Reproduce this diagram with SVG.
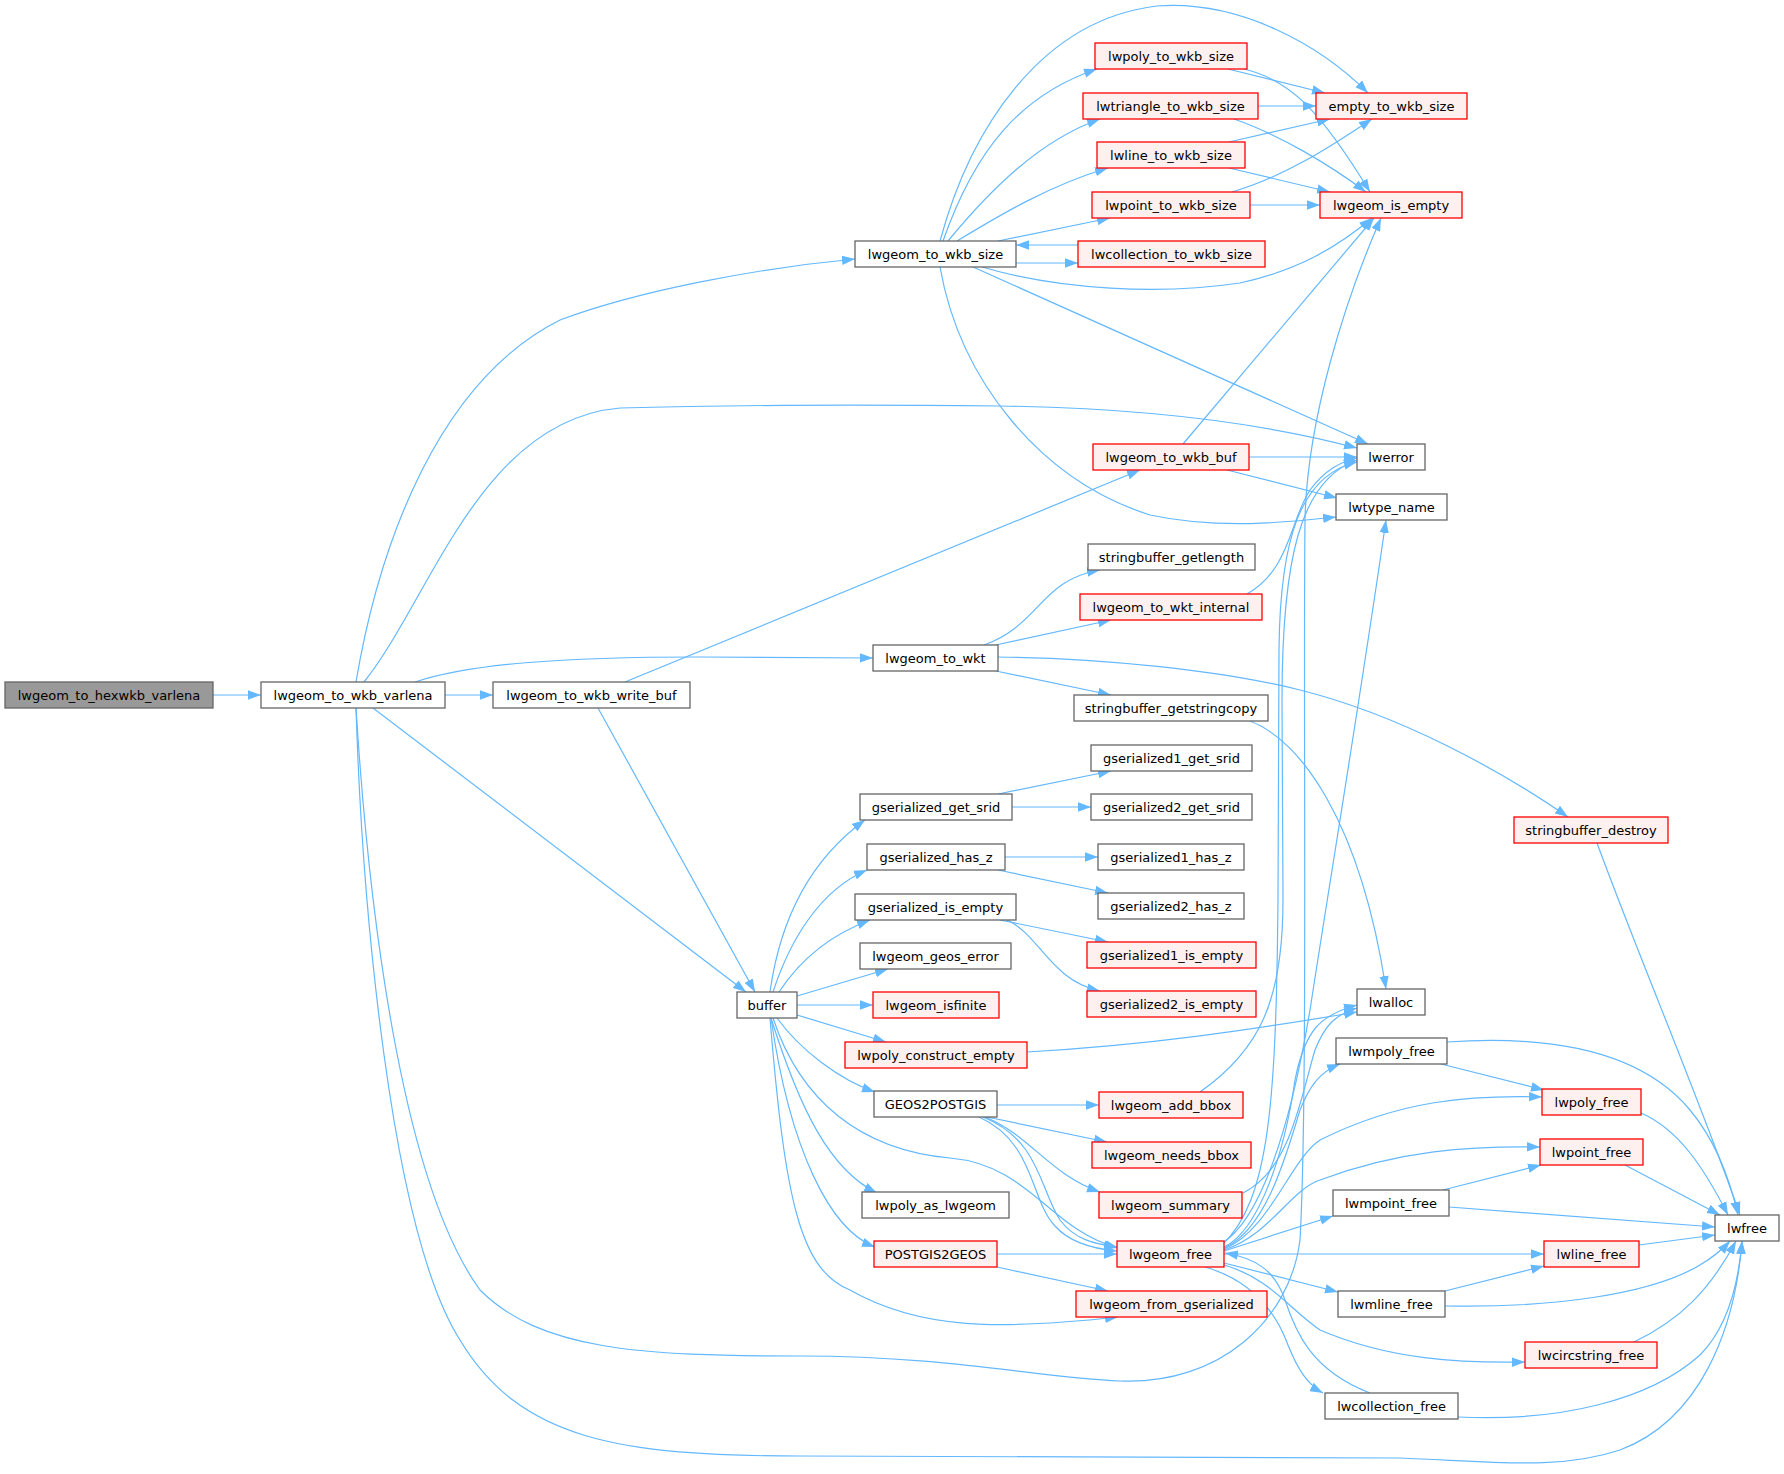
<svg xmlns="http://www.w3.org/2000/svg" width="1784" height="1474" viewBox="0 0 1784 1474">
<style>
.g rect{fill:#ffffff;stroke:#666666;stroke-width:1.3}
.r rect{fill:#fff0f0;stroke:#ff0000;stroke-width:1.3}
.root rect{fill:#999999;stroke:#666666;stroke-width:1.3}
text{font-family:"DejaVu Sans","Liberation Sans",sans-serif;font-size:13px;fill:#000000;text-anchor:middle}
#edges path{fill:none;stroke:#63b8ff;stroke-width:1.2;marker-end:url(#a)}
</style>
<defs>
<marker id="a" markerUnits="userSpaceOnUse" markerWidth="13" markerHeight="10" viewBox="0 0 13 10" refX="13" refY="5" orient="auto"><path d="M0,0.3 L13,5 L0,9.7 z" fill="#63b8ff"/></marker>
</defs>
<rect width="1784" height="1474" fill="#ffffff"/>
<g id="edges">
<path d="M213,695 L261,695"/>
<path d="M356,682 C380,540 440,380 560,320 C640,290 760,268 855,259"/>
<path d="M364,682 C430,600 480,420 620,408 C760,404 900,405 1000,406 C1150,408 1270,425 1357,448"/>
<path d="M445,695 L493,695"/>
<path d="M415,682 C470,664 560,657 700,657 L873,658"/>
<path d="M373,708 L746,992"/>
<path d="M356,708 C368,900 400,1180 480,1290 C540,1350 640,1356 800,1356 C950,1356 1040,1378 1120,1381 C1220,1385 1290,1320 1300,1240 C1308,1100 1303,700 1305,520 C1307,420 1345,300 1381,218"/>
<path d="M356,708 C362,900 390,1230 460,1340 C520,1440 620,1456 800,1456 L1400,1458 C1500,1462 1560,1470 1620,1450 C1700,1420 1735,1330 1742,1241"/>
<path d="M625,682 L1140,470"/>
<path d="M598,708 L755,992"/>
<path d="M940,241 C970,130 1040,20 1157,6 C1240,0 1320,45 1368,93"/>
<path d="M943,241 C975,150 1020,95 1097,69"/>
<path d="M948,241 C990,190 1040,140 1100,119"/>
<path d="M957,241 C1000,215 1050,185 1108,168"/>
<path d="M998,241 L1110,218"/>
<path d="M1016,263 L1078,263"/>
<path d="M1078,245 L1016,245"/>
<path d="M982,267 C1060,290 1160,295 1240,283 C1300,270 1340,245 1372,218"/>
<path d="M973,267 L1368,444"/>
<path d="M940,267 C960,380 1040,480 1150,515 C1220,530 1290,522 1336,517"/>
<path d="M1228,69 L1325,93"/>
<path d="M1244,69 C1290,80 1320,110 1370,192"/>
<path d="M1258,106 L1316,106"/>
<path d="M1234,119 C1280,135 1330,165 1366,192"/>
<path d="M1229,142 L1330,119"/>
<path d="M1229,168 L1330,192"/>
<path d="M1232,192 C1290,175 1340,140 1372,119"/>
<path d="M1250,205 L1320,205"/>
<path d="M1183,444 L1374,218"/>
<path d="M1249,457 L1357,457"/>
<path d="M1227,470 L1337,498"/>
<path d="M984,645 C1040,625 1040,580 1100,570"/>
<path d="M996,645 L1111,620"/>
<path d="M996,671 L1111,695"/>
<path d="M998,657 C1100,658 1220,670 1300,690 C1400,715 1500,770 1568,817"/>
<path d="M1247,594 C1290,570 1290,520 1310,490 C1325,470 1340,462 1357,458"/>
<path d="M1250,721 C1300,740 1360,820 1386,989"/>
<path d="M1597,843 C1640,960 1700,1100 1740,1215"/>
<path d="M770,992 C780,920 810,860 865,820"/>
<path d="M773,992 C790,940 820,890 867,870"/>
<path d="M779,992 C800,960 830,935 870,920"/>
<path d="M797,996 L888,969"/>
<path d="M797,1005 L873,1005"/>
<path d="M797,1015 L886,1042"/>
<path d="M777,1018 C800,1050 840,1080 875,1092"/>
<path d="M773,1018 C800,1100 860,1150 950,1158 C1030,1165 1050,1230 1118,1248"/>
<path d="M771,1018 C800,1110 830,1170 877,1193"/>
<path d="M771,1018 C790,1150 830,1230 875,1247"/>
<path d="M770,1018 C785,1200 800,1270 850,1290 C920,1330 1000,1330 1118,1317"/>
<path d="M998,794 L1111,771"/>
<path d="M1012,807 L1091,807"/>
<path d="M1005,857 L1098,857"/>
<path d="M998,870 L1108,893"/>
<path d="M1000,920 L1108,942"/>
<path d="M1007,920 C1040,935 1050,980 1100,991"/>
<path d="M1027,1052 C1150,1045 1250,1030 1357,1012"/>
<path d="M997,1105 L1099,1105"/>
<path d="M987,1117 L1107,1142"/>
<path d="M985,1117 C1030,1135 1050,1175 1100,1192"/>
<path d="M983,1117 C1040,1140 1040,1190 1060,1220 C1075,1240 1095,1244 1117,1247"/>
<path d="M979,1117 C1035,1142 1030,1200 1055,1226 C1070,1243 1095,1249 1117,1251"/>
<path d="M997,1254 L1117,1254"/>
<path d="M997,1267 L1108,1291"/>
<path d="M1200,1092 C1260,1050 1283,1000 1283,900 L1282,700 C1282,560 1300,480 1357,460"/>
<path d="M1243,1193 C1290,1170 1300,1100 1315,1050 C1325,1025 1335,1015 1357,1008"/>
<path d="M1224,1247 C1260,1230 1285,1150 1295,1080 C1305,1030 1320,1015 1357,1005"/>
<path d="M1224,1248 C1265,1230 1285,1160 1300,1110 C1310,1085 1320,1072 1340,1064"/>
<path d="M1224,1249 C1270,1230 1290,1160 1320,1140 C1400,1100 1470,1095 1542,1097"/>
<path d="M1224,1250 C1270,1235 1290,1190 1320,1180 C1400,1150 1470,1146 1540,1147"/>
<path d="M1224,1251 L1333,1216"/>
<path d="M1224,1254 L1544,1254"/>
<path d="M1224,1263 L1338,1292"/>
<path d="M1224,1265 C1270,1278 1290,1310 1320,1330 C1390,1360 1460,1363 1525,1362"/>
<path d="M1205,1267 C1250,1280 1275,1310 1288,1345 C1298,1370 1308,1385 1323,1393"/>
<path d="M1370,1393 C1310,1370 1295,1330 1285,1300 C1275,1270 1255,1258 1225,1253"/>
<path d="M1222,1245 C1270,1200 1276,1100 1278,900 L1279,650 C1280,540 1300,475 1357,462"/>
<path d="M1222,1243 C1260,1220 1290,1130 1310,1010 C1330,880 1360,700 1386,520"/>
<path d="M1447,1042 C1550,1035 1640,1050 1690,1110 C1715,1140 1730,1180 1738,1215"/>
<path d="M1441,1064 L1544,1090"/>
<path d="M1641,1113 C1680,1130 1705,1170 1728,1215"/>
<path d="M1625,1165 L1720,1215"/>
<path d="M1449,1207 L1715,1227"/>
<path d="M1443,1190 L1541,1165"/>
<path d="M1639,1245 L1715,1235"/>
<path d="M1445,1291 L1544,1266"/>
<path d="M1445,1306 C1550,1308 1650,1295 1700,1265 C1715,1256 1722,1250 1730,1241"/>
<path d="M1634,1342 C1680,1320 1710,1290 1736,1241"/>
<path d="M1458,1417 C1560,1422 1650,1400 1700,1355 C1725,1330 1738,1290 1742,1241"/>
</g>
<g id="n0" class="root"><rect x="5" y="682" width="208" height="26"/><text x="109" y="699.5">lwgeom_to_hexwkb_varlena</text></g>
<g id="n1" class="g"><rect x="261" y="682" width="184" height="26"/><text x="353" y="699.5">lwgeom_to_wkb_varlena</text></g>
<g id="n2" class="g"><rect x="493" y="682" width="197" height="26"/><text x="591.5" y="699.5">lwgeom_to_wkb_write_buf</text></g>
<g id="n3" class="g"><rect x="855" y="241" width="161" height="26"/><text x="935.5" y="258.5">lwgeom_to_wkb_size</text></g>
<g id="n4" class="r"><rect x="1095" y="43" width="152" height="26"/><text x="1171" y="60.5">lwpoly_to_wkb_size</text></g>
<g id="n5" class="r"><rect x="1083" y="93" width="175" height="26"/><text x="1170.5" y="110.5">lwtriangle_to_wkb_size</text></g>
<g id="n6" class="r"><rect x="1097" y="142" width="148" height="26"/><text x="1171" y="159.5">lwline_to_wkb_size</text></g>
<g id="n7" class="r"><rect x="1092" y="192" width="158" height="26"/><text x="1171" y="209.5">lwpoint_to_wkb_size</text></g>
<g id="n8" class="r"><rect x="1078" y="241" width="187" height="26"/><text x="1171.5" y="258.5">lwcollection_to_wkb_size</text></g>
<g id="n9" class="r"><rect x="1316" y="93" width="151" height="26"/><text x="1391.5" y="110.5">empty_to_wkb_size</text></g>
<g id="n10" class="r"><rect x="1320" y="192" width="142" height="26"/><text x="1391" y="209.5">lwgeom_is_empty</text></g>
<g id="n11" class="r"><rect x="1093" y="444" width="156" height="26"/><text x="1171" y="461.5">lwgeom_to_wkb_buf</text></g>
<g id="n12" class="g"><rect x="1357" y="444" width="68" height="26"/><text x="1391" y="461.5">lwerror</text></g>
<g id="n13" class="g"><rect x="1336" y="494" width="111" height="26"/><text x="1391.5" y="511.5">lwtype_name</text></g>
<g id="n14" class="g"><rect x="1088" y="544" width="167" height="26"/><text x="1171.5" y="561.5">stringbuffer_getlength</text></g>
<g id="n15" class="r"><rect x="1080" y="594" width="182" height="26"/><text x="1171" y="611.5">lwgeom_to_wkt_internal</text></g>
<g id="n16" class="g"><rect x="873" y="645" width="125" height="26"/><text x="935.5" y="662.5">lwgeom_to_wkt</text></g>
<g id="n17" class="g"><rect x="1074" y="695" width="194" height="26"/><text x="1171" y="712.5">stringbuffer_getstringcopy</text></g>
<g id="n18" class="g"><rect x="1091" y="745" width="161" height="26"/><text x="1171.5" y="762.5">gserialized1_get_srid</text></g>
<g id="n19" class="g"><rect x="860" y="794" width="152" height="26"/><text x="936" y="811.5">gserialized_get_srid</text></g>
<g id="n20" class="g"><rect x="1091" y="794" width="161" height="26"/><text x="1171.5" y="811.5">gserialized2_get_srid</text></g>
<g id="n21" class="g"><rect x="867" y="844" width="138" height="26"/><text x="936" y="861.5">gserialized_has_z</text></g>
<g id="n22" class="g"><rect x="1098" y="844" width="146" height="26"/><text x="1171" y="861.5">gserialized1_has_z</text></g>
<g id="n23" class="g"><rect x="1098" y="893" width="146" height="26"/><text x="1171" y="910.5">gserialized2_has_z</text></g>
<g id="n24" class="g"><rect x="855" y="894" width="161" height="26"/><text x="935.5" y="911.5">gserialized_is_empty</text></g>
<g id="n25" class="r"><rect x="1087" y="942" width="169" height="26"/><text x="1171.5" y="959.5">gserialized1_is_empty</text></g>
<g id="n26" class="g"><rect x="860" y="943" width="151" height="26"/><text x="935.5" y="960.5">lwgeom_geos_error</text></g>
<g id="n27" class="r"><rect x="1087" y="991" width="169" height="26"/><text x="1171.5" y="1008.5">gserialized2_is_empty</text></g>
<g id="n28" class="g"><rect x="737" y="992" width="60" height="26"/><text x="767" y="1009.5">buffer</text></g>
<g id="n29" class="r"><rect x="873" y="992" width="126" height="26"/><text x="936" y="1009.5">lwgeom_isfinite</text></g>
<g id="n30" class="r"><rect x="1514" y="817" width="154" height="26"/><text x="1591" y="834.5">stringbuffer_destroy</text></g>
<g id="n31" class="g"><rect x="1357" y="989" width="68" height="26"/><text x="1391" y="1006.5">lwalloc</text></g>
<g id="n32" class="r"><rect x="845" y="1042" width="182" height="26"/><text x="936" y="1059.5">lwpoly_construct_empty</text></g>
<g id="n33" class="g"><rect x="874" y="1091" width="123" height="26"/><text x="935.5" y="1108.5">GEOS2POSTGIS</text></g>
<g id="n34" class="r"><rect x="1099" y="1092" width="144" height="26"/><text x="1171" y="1109.5">lwgeom_add_bbox</text></g>
<g id="n35" class="r"><rect x="1092" y="1142" width="159" height="26"/><text x="1171.5" y="1159.5">lwgeom_needs_bbox</text></g>
<g id="n36" class="r"><rect x="1099" y="1192" width="143" height="26"/><text x="1170.5" y="1209.5">lwgeom_summary</text></g>
<g id="n37" class="g"><rect x="862" y="1192" width="147" height="26"/><text x="935.5" y="1209.5">lwpoly_as_lwgeom</text></g>
<g id="n38" class="r"><rect x="874" y="1241" width="123" height="26"/><text x="935.5" y="1258.5">POSTGIS2GEOS</text></g>
<g id="n39" class="r"><rect x="1117" y="1241" width="107" height="26"/><text x="1170.5" y="1258.5">lwgeom_free</text></g>
<g id="n40" class="r"><rect x="1076" y="1291" width="191" height="26"/><text x="1171.5" y="1308.5">lwgeom_from_gserialized</text></g>
<g id="n41" class="g"><rect x="1336" y="1038" width="111" height="26"/><text x="1391.5" y="1055.5">lwmpoly_free</text></g>
<g id="n42" class="r"><rect x="1542" y="1089" width="99" height="26"/><text x="1591.5" y="1106.5">lwpoly_free</text></g>
<g id="n43" class="r"><rect x="1540" y="1139" width="103" height="26"/><text x="1591.5" y="1156.5">lwpoint_free</text></g>
<g id="n44" class="g"><rect x="1333" y="1190" width="116" height="26"/><text x="1391" y="1207.5">lwmpoint_free</text></g>
<g id="n45" class="g"><rect x="1715" y="1215" width="64" height="26"/><text x="1747" y="1232.5">lwfree</text></g>
<g id="n46" class="r"><rect x="1544" y="1241" width="95" height="26"/><text x="1591.5" y="1258.5">lwline_free</text></g>
<g id="n47" class="g"><rect x="1338" y="1291" width="107" height="26"/><text x="1391.5" y="1308.5">lwmline_free</text></g>
<g id="n48" class="r"><rect x="1525" y="1342" width="132" height="26"/><text x="1591" y="1359.5">lwcircstring_free</text></g>
<g id="n49" class="g"><rect x="1325" y="1393" width="133" height="26"/><text x="1391.5" y="1410.5">lwcollection_free</text></g>
</svg>
